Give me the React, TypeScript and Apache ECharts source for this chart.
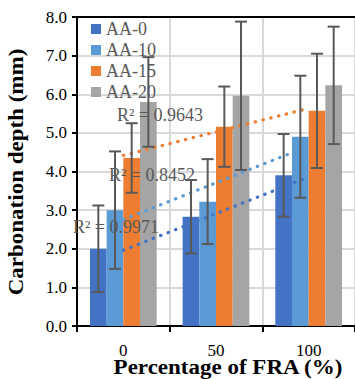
import React, { useEffect, useRef } from "react";
import * as echarts from "echarts";

// Replacement ratio of FRA (%)
const categories = ["0", "50", "100"];
const seriesNames = ["AA-0", "AA-10", "AA-15", "AA-20"];
const colors = ["#4472C4", "#5B9BD5", "#ED7D31", "#A5A5A5"];

// Mean carbonation depth (mm)
const aa0 = [2.0, 2.83, 3.9];
const aa10 = [3.0, 3.22, 4.9];
const aa15 = [4.35, 5.16, 5.57];
const aa20 = [5.8, 5.96, 6.23];

// Standard deviation (mm)
const aa0Err = [1.12, 0.95, 1.07];
const aa10Err = [1.52, 1.1, 1.58];
const aa15Err = [0.9, 1.04, 1.48];
const aa20Err = [1.16, 1.92, 1.52];

// Coefficients of determination of the linear trend lines
const r2Labels = ["R² = 0.9971", "R² = 0.8452", "R² = 0.9643"];

const yTicks = [0, 1, 2, 3, 4, 5, 6, 7, 8];

const FONT = "Liberation Serif";
const CAT_GAP = 0.28;

function linearTrend(values: number[]): number[] {
  const n = values.length;
  const xs = values.map((_, i) => i);
  const mx = xs.reduce((a, b) => a + b, 0) / n;
  const my = values.reduce((a, b) => a + b, 0) / n;
  let sxy = 0;
  let sxx = 0;
  xs.forEach((x, i) => {
    sxy += (x - mx) * (values[i] - my);
    sxx += (x - mx) * (x - mx);
  });
  const slope = sxy / sxx;
  return xs.map((x) => my + slope * (x - mx));
}

export default function App() {
  const ref = useRef<HTMLDivElement>(null);

  useEffect(() => {
    if (!ref.current) return;
    document.body.style.margin = "0";
    const chart = echarts.init(ref.current, null, { renderer: "svg" });

    const means = [aa0, aa10, aa15, aa20];
    const errs = [aa0Err, aa10Err, aa15Err, aa20Err];

    const barSeries = means.map((d, k) => ({
      name: seriesNames[k],
      type: "bar",
      data: d,
      barGap: "0%",
      barCategoryGap: `${CAT_GAP * 100}%`,
      itemStyle: { color: colors[k] },
      z: 2,
    }));

    const trendSeries = [0, 1, 2].map((k) => ({
      name: `trend-${seriesNames[k]}`,
      type: "line",
      data: linearTrend(means[k]),
      symbol: "none",
      silent: true,
      lineStyle: { color: colors[k], width: 3.2, type: [0.5, 7.5], cap: "round" },
      z: 4,
    }));

    const errSeries = means.map((d, k) => ({
      name: `err-${seriesNames[k]}`,
      type: "custom",
      data: d.map((v, i) => [i, v - errs[k][i], v + errs[k][i]]),
      encode: { x: 0, y: [1, 2] },
      z: 5,
      silent: true,
      renderItem: (params: any, api: any) => {
        const ci = api.value(0);
        const lo = api.coord([ci, api.value(1)]);
        const hi = api.coord([ci, api.value(2)]);
        const band = api.size([1, 0])[0];
        const barW = (band * (1 - CAT_GAP)) / 4;
        const x = hi[0] + (k - 1.5) * barW;
        const cap = 6;
        const style = { stroke: "#595959", lineWidth: 2 };
        return {
          type: "group",
          children: [
            { type: "line", shape: { x1: x, y1: hi[1], x2: x, y2: lo[1] }, style },
            { type: "line", shape: { x1: x - cap, y1: hi[1], x2: x + cap, y2: hi[1] }, style },
            { type: "line", shape: { x1: x - cap, y1: lo[1], x2: x + cap, y2: lo[1] }, style },
          ],
        };
      },
    }));

    const r2Pos = [
      [116, 227],
      [152, 175],
      [160, 115],
    ];

    chart.setOption({
      animation: false,
      grid: { left: 77, right: 0, top: 17, bottom: 53 },
      legend: {
        data: seriesNames,
        orient: "vertical",
        left: 86,
        top: 15,
        icon: "rect",
        itemWidth: 10,
        itemHeight: 10,
        itemGap: 3,
        textStyle: { fontFamily: FONT, fontSize: 18, color: "#595959" },
      },
      xAxis: [
        {
          type: "category",
          data: categories,
          axisLine: { lineStyle: { color: "#000", width: 2 } },
          axisTick: { show: true, length: 6, lineStyle: { color: "#000", width: 2 } },
          axisLabel: { fontFamily: FONT, fontSize: 17, color: "#000", margin: 16 },
          splitLine: { show: true, lineStyle: { color: "#d9d9d9", width: 2 } },
        },
        {
          type: "category",
          data: categories,
          position: "top",
          axisLine: { lineStyle: { color: "#000", width: 2 } },
          axisTick: { show: false },
          axisLabel: { show: false },
          splitLine: { show: false },
        },
      ],
      yAxis: {
        type: "value",
        min: yTicks[0],
        max: yTicks[yTicks.length - 1],
        interval: 1,
        axisLine: { show: true, lineStyle: { color: "#000", width: 2 } },
        axisTick: { show: true, length: 5, lineStyle: { color: "#000", width: 2 } },
        axisLabel: {
          fontFamily: FONT,
          fontSize: 17,
          color: "#000",
          margin: 10,
          formatter: (v: number) => v.toFixed(1),
        },
        splitLine: { show: true, lineStyle: { color: "#d9d9d9", width: 2 } },
      },
      graphic: [
        ...r2Labels.map((t, i) => ({
          type: "text",
          x: r2Pos[i][0],
          y: r2Pos[i][1],
          z: 10,
          style: {
            text: t,
            fontFamily: FONT,
            fontSize: 18,
            fill: "#595959",
            textAlign: "center",
            textVerticalAlign: "middle",
          },
        })),
        {
          type: "text",
          x: 228,
          y: 368,
          scaleX: 1.15,
          style: {
            text: "Percentage of FRA (%)",
            fontFamily: FONT,
            fontWeight: "bold",
            fontSize: 20,
            fill: "#000",
            textAlign: "center",
            textVerticalAlign: "middle",
          },
        },
        {
          type: "text",
          x: 17,
          y: 172,
          rotation: Math.PI / 2,
          scaleX: 1.15,
          style: {
            text: "Carbonation depth (mm)",
            fontFamily: FONT,
            fontWeight: "bold",
            fontSize: 20,
            fill: "#000",
            textAlign: "center",
            textVerticalAlign: "middle",
          },
        },
      ],
      series: [...barSeries, ...trendSeries, ...errSeries],
    });

    return () => chart.dispose();
  }, []);

  return <div ref={ref} style={{ width: 355, height: 379 }} />;
}
